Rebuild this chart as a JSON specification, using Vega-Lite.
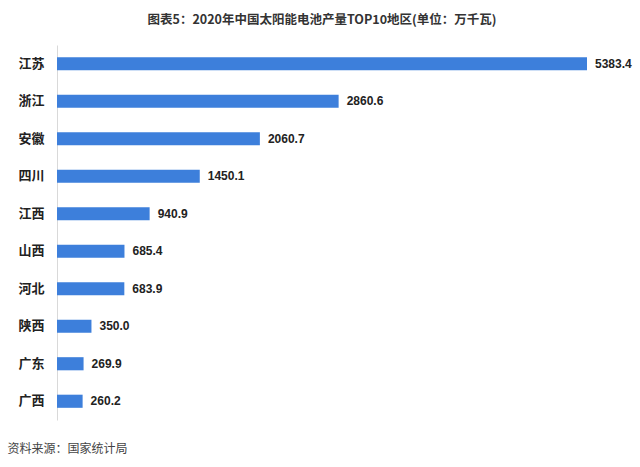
{
  "$schema": "https://vega.github.io/schema/vega-lite/v6.json",
  "autosize": "none",
  "width": 530,
  "height": 375,
  "padding": {"left": 57, "top": 45, "right": 53, "bottom": 47},
  "background": "white",
  "title": {
    "text": "图表5：2020年中国太阳能电池产量TOP10地区(单位：万千瓦)",
    "anchor": "middle",
    "frame": "group",
    "font": "Noto Sans CJK SC",
    "fontSize": 12.5,
    "fontWeight": "bold",
    "color": "#333333",
    "baseline": "middle",
    "offset": 13
  },
  "data": {
    "values": [
      {"region": "江苏", "value": 5383.4},
      {"region": "浙江", "value": 2860.6},
      {"region": "安徽", "value": 2060.7},
      {"region": "四川", "value": 1450.1},
      {"region": "江西", "value": 940.9},
      {"region": "山西", "value": 685.4},
      {"region": "河北", "value": 683.9},
      {"region": "陕西", "value": 350.0},
      {"region": "广东", "value": 269.9},
      {"region": "广西", "value": 260.2}
    ]
  },
  "encoding": {
    "y": {
      "field": "region",
      "type": "nominal",
      "sort": null,
      "scale": {"paddingInner": 0.65, "paddingOuter": 0.325},
      "axis": {
        "title": null,
        "ticks": false,
        "domainColor": "#d9d9d9",
        "domainWidth": 1,
        "labelPadding": 13,
        "labelFont": "Noto Sans CJK SC",
        "labelFontSize": 13,
        "labelFontWeight": "bold",
        "labelColor": "#222222"
      }
    },
    "x": {
      "field": "value",
      "type": "quantitative",
      "scale": {"domain": [0, 5383.4], "nice": false},
      "axis": {
        "title": "资料来源：国家统计局",
        "titleFont": "Noto Sans CJK SC",
        "titleFontSize": 12,
        "titleFontWeight": "normal",
        "titleColor": "#444444",
        "titleAnchor": "start",
        "titleAlign": "left",
        "titleBaseline": "middle",
        "titleX": -50,
        "titleY": 28,
        "domain": false,
        "ticks": false,
        "labels": false,
        "grid": false
      }
    }
  },
  "layer": [
    {"mark": {"type": "bar", "color": "#3d7fdb"}},
    {
      "mark": {
        "type": "text",
        "align": "left",
        "baseline": "middle",
        "dx": 8,
        "font": "Liberation Sans",
        "fontSize": 12,
        "fontWeight": "bold",
        "color": "#222222"
      },
      "encoding": {"text": {"field": "value", "type": "quantitative", "format": ".1f"}}
    }
  ],
  "config": {"view": {"stroke": null}}
}
